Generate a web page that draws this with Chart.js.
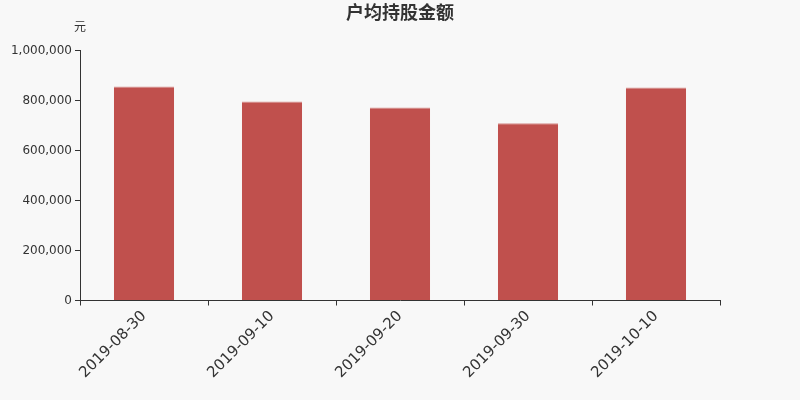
<!DOCTYPE html>
<html>
<head>
<meta charset="utf-8">
<script src="https://cdn.jsdelivr.net/npm/chart.js@4"></script>
<style>
  html, body { margin: 0; padding: 0; background: #f8f8f8; }
  #wrap { width: 800px; height: 400px; }
</style>
</head>
<body>
<div id="wrap"><canvas id="chart"></canvas></div>
<script>
// 数据
const categories = ['2019-08-30', '2019-09-10', '2019-09-20', '2019-09-30', '2019-10-10'];
const amounts = [856000, 796000, 772000, 709000, 852000];
const yTicks = [0, 200000, 400000, 600000, 800000, 1000000];

const titleText = '户均持股金额';
const unitText = '元';

// 标题和单位文字
const textPlugin = {
    id: 'textPlugin',
    afterDraw(chart) {
        const ctx = chart.ctx;
        ctx.save();
        ctx.fillStyle = '#333';
        ctx.textAlign = 'center';
        ctx.textBaseline = 'middle';
        ctx.font = 'bold 18px "DejaVu Sans", "Noto Sans CJK SC", sans-serif';
        ctx.fillText(titleText, 400, 14);
        ctx.font = '12px "DejaVu Sans", "Noto Sans CJK SC", sans-serif';
        ctx.fillText(unitText, chart.chartArea.left, 28);
        ctx.restore();
    }
};

const ctx = document.getElementById('chart').getContext('2d');
new Chart(ctx, {
    type: 'bar',
    data: {
        labels: categories,
        datasets: [{
            data: amounts,
            backgroundColor: '#c0504d',
            borderColor: '#d58e8c',
            borderWidth: { top: 1, left: 0, right: 0, bottom: 0 },
            borderSkipped: 'bottom',
            inflateAmount: 0,
            barPercentage: 0.47,
            categoryPercentage: 1
        }]
    },
    options: {
        responsive: true,
        maintainAspectRatio: false,
        animation: false,
        layout: { padding: { top: 50.5, right: 80, left: 0, bottom: 0 } },
        plugins: {
            legend: { display: false },
            title: { display: false },
            tooltip: { enabled: false }
        },
        scales: {
            x: {
                z: 1,
                afterFit(scale) { scale.height = 99.5; },
                grid: {
                    offset: true,
                    drawOnChartArea: false,
                    tickLength: 5,
                    color: '#333'
                },
                border: { color: '#333', width: 1 },
                ticks: {
                    color: '#333',
                    font: { family: '"DejaVu Sans", sans-serif', size: 15 },
                    maxRotation: 45,
                    minRotation: 45,
                    padding: 2
                }
            },
            y: {
                min: 0,
                max: 1000000,
                afterFit(scale) { scale.width = 80; },
                afterBuildTicks(scale) {
                    scale.ticks = yTicks.map(v => ({ value: v }));
                },
                grid: {
                    drawOnChartArea: false,
                    tickLength: 5,
                    color: '#333'
                },
                border: { color: '#333', width: 1 },
                ticks: {
                    color: '#333',
                    font: { family: '"DejaVu Sans", sans-serif', size: 12 },
                    padding: 3,
                    callback: v => v.toLocaleString('en-US')
                }
            }
        }
    },
    plugins: [textPlugin]
});
</script>
</body>
</html>
